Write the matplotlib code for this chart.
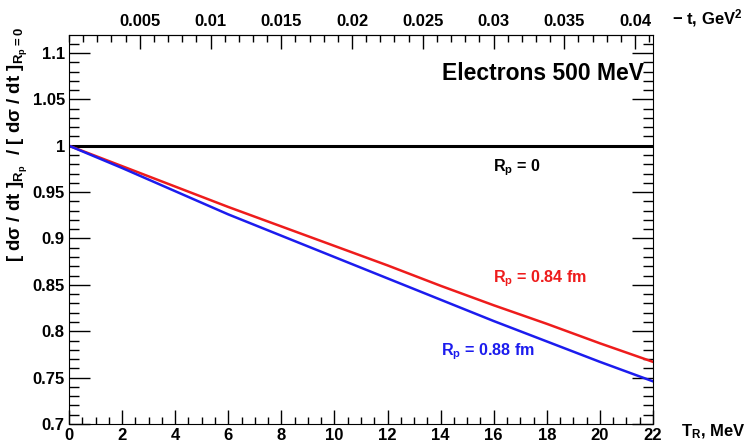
import matplotlib
matplotlib.use('Agg')
import matplotlib.pyplot as plt
from matplotlib.ticker import MultipleLocator

plt.rcParams['font.family'] = ['Liberation Sans', 'DejaVu Sans']
plt.rcParams['font.weight'] = 'bold'
plt.rcParams['mathtext.fontset'] = 'custom'
plt.rcParams['mathtext.rm'] = 'Liberation Sans:bold'
plt.rcParams['mathtext.it'] = 'Liberation Sans:bold'
plt.rcParams['mathtext.bf'] = 'Liberation Sans:bold'

# kinetic energy of recoil proton, MeV
T_R = [0, 2, 4, 6, 8, 10, 12, 14, 16, 18, 20, 22]
ratio_r0 = [1.0] * len(T_R)
ratio_084 = [1.0, 0.978, 0.956, 0.934, 0.913, 0.892, 0.871, 0.849, 0.828, 0.808, 0.787, 0.767]
ratio_088 = [1.0, 0.976, 0.951, 0.926, 0.903, 0.880, 0.857, 0.834, 0.811, 0.789, 0.767, 0.746]

M_p = 0.938  # GeV, -t = 2 M T

fig = plt.figure(figsize=(7.49, 4.45), dpi=100)
ax = fig.add_axes([69/749, 21/445, 584/749, 389/445])

ax.plot(T_R, ratio_r0, color='black', lw=2.2)
ax.plot(T_R, ratio_084, color='#ee1c1c', lw=1.8)
ax.plot(T_R, ratio_088, color='#1c1cee', lw=1.8)

ax.set_xlim(0, 22.0)
ax.set_ylim(0.7, 1.1194)

ax.xaxis.set_major_locator(MultipleLocator(2))
ax.xaxis.set_minor_locator(MultipleLocator(0.5))
ax.yaxis.set_minor_locator(MultipleLocator(0.01))
ax.set_yticks([0.7, 0.75, 0.8, 0.85, 0.9, 0.95, 1.0, 1.05, 1.1])
ax.set_yticklabels(['0.7', '0.75', '0.8', '0.85', '0.9', '0.95', '1', '1.05', '1.1'])
ax.tick_params(axis='x', which='major', direction='in', length=10, width=1, top=False,
               labelsize=12, pad=3)
ax.tick_params(axis='x', which='minor', direction='in', length=5, width=1, top=False)
ax.tick_params(axis='y', which='major', direction='in', length=15, width=1, right=True,
               labelsize=12, pad=3)
ax.tick_params(axis='y', which='minor', direction='in', length=7, width=1, right=True)

sec = ax.secondary_xaxis('top', functions=(lambda T: 2 * M_p * T / 1000.0,
                                           lambda t: t * 1000.0 / (2 * M_p)))
sec.xaxis.set_minor_locator(MultipleLocator(0.001))
sec.set_xticks([0.005, 0.01, 0.015, 0.02, 0.025, 0.03, 0.035, 0.04])
sec.set_xticklabels(['0.005', '0.01', '0.015', '0.02', '0.025', '0.03', '0.035', '0.04'])
sec.tick_params(which='major', direction='in', length=10, width=1, labelsize=12, pad=4)
sec.tick_params(which='minor', direction='in', length=5, width=1)

ax.text(17.86, 1.0777, 'Electrons 500 MeV', fontsize=16.5, ha='center', va='center')
ax.text(15.97, 0.976, r'R$_\mathregular{p}$ = 0', fontsize=11.6, va='center', color='black')
ax.text(15.97, 0.8565, r'R$_\mathregular{p}$ = 0.84 fm', fontsize=11.6, va='center', color='#ee1c1c')
ax.text(14.01, 0.778, r'R$_\mathregular{p}$ = 0.88 fm', fontsize=11.6, va='center', color='#1c1cee')

fig.text(681/749, 1 - 432/445, r'T$_\mathregular{R}$, MeV', fontsize=12, va='center', ha='left')
fig.text(672/749, 1 - 18/445, r'$-$ t, GeV$^\mathregular{2}$', fontsize=12, va='center', ha='left')
fig.text(18/749, 1 - 27/445,
         r'[ d$\sigma$ / dt ]$_\mathregular{R_p}$  / [ d$\sigma$ / dt ]$_\mathregular{R_p=0}$',
         fontsize=13.5, rotation=90, ha='center', va='top')

fig.savefig('out.png', dpi=100)
